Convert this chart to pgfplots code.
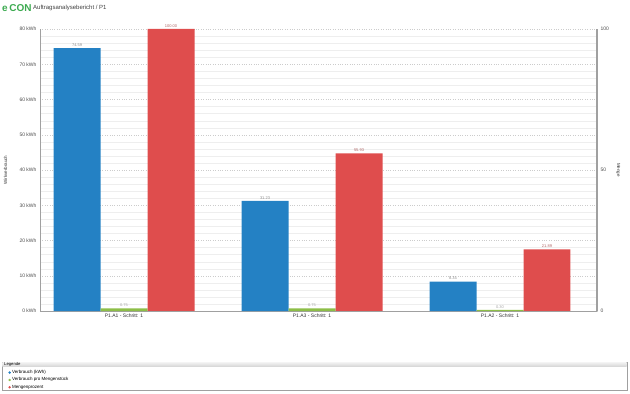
\documentclass[border=0pt]{standalone}
\usepackage{pgfplots}
\pgfplotsset{compat=1.18}
\usepackage{fontspec}
\setmainfont{Liberation Sans}
\definecolor{cblue}{RGB}{36,129,196}
\definecolor{cgreen}{RGB}{141,190,72}
\definecolor{cred}{RGB}{223,77,77}
\definecolor{logogreen}{RGB}{60,170,80}
\definecolor{axgray}{RGB}{160,160,160}
\pgfplotsset{/pgf/number format/assume math mode=true}
\begin{document}
\begin{tikzpicture}
\useasboundingbox (0pt,0pt) rectangle (630pt,394pt);
% title
\node[anchor=west,inner sep=0pt,text=logogreen] at (2pt,386pt) {\fontsize{10}{10}\selectfont\bfseries e\,CON};
\node[anchor=west,inner sep=0pt,text=black!75] at (33pt,386pt) {\fontsize{6}{6}\selectfont Auftragsanalysebericht / P1};
% legend frame
\draw[axgray,line width=0.6pt] (2pt,4pt) rectangle (627pt,32pt);
\shade[top color=gray!10,bottom color=gray!35] (2.3pt,27pt) rectangle (626.7pt,31.7pt);
\node[anchor=west,inner sep=0pt] at (4pt,29.4pt) {\fontsize{4.2}{4.2}\selectfont Legende};
\begin{axis}[
  at={(40pt,83pt)}, anchor=south west,
  scale only axis, width=557pt, height=282pt,
  xmin=-0.447, xmax=2.516, ymin=0, ymax=80,
  axis x line*=bottom, axis y line*=left,
  axis line style={axgray,line width=0.6pt},
  ytick={0,10,...,80},
  yticklabel={\pgfmathprintnumber{\tick} kWh},
  y tick label style={font=\fontsize{5}{5}\selectfont, text=black!70},
  minor y tick num=4,
  ymajorgrids, yminorgrids,
  major grid style={gray!40, dash pattern=on 0.6pt off 1.8pt, line width=0.5pt},
  minor grid style={gray!13, line width=0.3pt},
  major tick length=0pt, minor tick length=0pt,
  xtick={0,1,2},
  xticklabels={P1.A1 - Schritt: 1, P1.A3 - Schritt: 1, P1.A2 - Schritt: 1},
  x tick label style={font=\fontsize{5}{5}\selectfont, text=black!80, yshift=1pt},
  ylabel={Wirkverbrauch}, ylabel style={font=\fontsize{4.5}{4.5}\selectfont, text=black!80, at={(axis description cs:-0.062,0.5)}, anchor=center},
  ybar, bar width=0.25,
  nodes near coords={\pgfmathprintnumber[fixed,fixed zerofill,precision=2]{\pgfplotspointmeta}},
  every node near coord/.append style={font=\fontsize{4}{4}\selectfont, inner sep=1.5pt},
  clip=false,
  legend style={at={(-0.057,-0.205)}, anchor=north west, draw=none, fill=none,
    font=\fontsize{4.5}{4.5}\selectfont, row sep=0.2pt, inner sep=0pt,
    nodes={inner sep=1.2pt}},
  legend cell align=left,
]
\addplot[forget plot, fill=cblue, draw=none, bar shift=-0.25, every node near coord/.append style={text=black!45}]
  coordinates {(0,74.59) (1,31.23) (2,8.34)};
\addplot[forget plot, fill=cgreen, draw=none, bar shift=0, every node near coord/.append style={text=black!35}]
  coordinates {(0,0.75) (1,0.75) (2,0.30)};
\addlegendimage{legend image code/.code={\fill[cblue] (1.5pt,0pt) circle (1pt);}}
\addlegendentry{Verbrauch (kWh)}
\addlegendimage{legend image code/.code={\fill[cgreen] (1.5pt,0pt) circle (1pt);}}
\addlegendentry{Verbrauch pro Mengenstück}
\addlegendimage{legend image code/.code={\fill[cred] (1.5pt,0pt) circle (1pt);}}
\addlegendentry{Mengenprozent}
\end{axis}
\begin{axis}[
  at={(40pt,83pt)}, anchor=south west,
  scale only axis, width=557pt, height=282pt,
  xmin=-0.447, xmax=2.516, ymin=0, ymax=100,
  axis x line=none, axis y line*=right,
  axis line style={axgray,line width=1.3pt},
  ytick={0,50,100},
  y tick label style={font=\fontsize{5}{5}\selectfont, text=black!70},
  major tick length=0pt,
  ylabel={Menge}, ylabel style={font=\fontsize{4.5}{4.5}\selectfont, text=black!80, at={(axis description cs:1.038,0.5)}, anchor=center, rotate=180},
  ybar, bar width=0.25,
  nodes near coords={\pgfmathprintnumber[fixed,fixed zerofill,precision=2]{\pgfplotspointmeta}},
  every node near coord/.append style={font=\fontsize{4}{4}\selectfont, inner sep=1.5pt, text=cred!50!gray},
  clip=false,
]
\addplot[fill=cred, draw=none, bar shift=0.25]
  coordinates {(0,100.00) (1,55.93) (2,21.89)};
\end{axis}
\end{tikzpicture}
\end{document}
